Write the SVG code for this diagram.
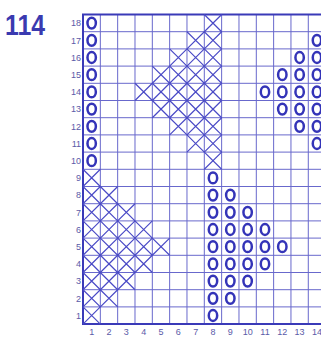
<svg xmlns="http://www.w3.org/2000/svg" width="321" height="338" viewBox="0 0 321 338">
<style>
.grid{stroke:#6868cc;stroke-width:1;fill:none}
.border{stroke:#3a3ab8;stroke-width:2;fill:none}
.xs{stroke:#4a4ac6;stroke-width:1.2;fill:none}
.os{stroke:#3434b8;stroke-width:2.5;fill:none}
.lbl{font-family:"Liberation Sans",Arial,sans-serif;font-size:9px;fill:#5a5aa8}
.title{font-family:"Liberation Sans",Arial,sans-serif;font-size:29px;font-weight:bold;fill:#3a3ab0}
</style>
<defs>
<path id="x" class="xs" d="M0,0L17.33,17.2M17.33,0L0,17.2"/>
<ellipse id="o" class="os" cx="8.67" cy="8.6" rx="4.2" ry="5.4"/>
</defs>
<rect width="321" height="338" fill="#ffffff"/>
<text class="title" x="5" y="35" textLength="40" lengthAdjust="spacingAndGlyphs">114</text>
<g id="grid">
<path class="grid" d="M100.33,14.5V324.1M117.66,14.5V324.1M134.99,14.5V324.1M152.32,14.5V324.1M169.65,14.5V324.1M186.98,14.5V324.1M204.31,14.5V324.1M221.64,14.5V324.1M238.97,14.5V324.1M256.3,14.5V324.1M273.63,14.5V324.1M290.96,14.5V324.1M308.29,14.5V324.1"/>
<path class="grid" d="M83,31.7H321M83,48.9H321M83,66.1H321M83,83.3H321M83,100.5H321M83,117.7H321M83,134.9H321M83,152.1H321M83,169.3H321M83,186.5H321M83,203.7H321M83,220.9H321M83,238.1H321M83,255.3H321M83,272.5H321M83,289.7H321M83,306.9H321"/>
<path class="border" d="M321,14.5H83V324.1H321"/>
</g>
<g id="row-labels" class="lbl" text-anchor="end">
<text x="81" y="26.3">18</text><text x="81" y="43.5">17</text><text x="81" y="60.7">16</text><text x="81" y="77.9">15</text><text x="81" y="95.1">14</text><text x="81" y="112.3">13</text><text x="81" y="129.5">12</text><text x="81" y="146.7">11</text><text x="81" y="163.9">10</text><text x="81" y="181.1">9</text><text x="81" y="198.3">8</text><text x="81" y="215.5">7</text><text x="81" y="232.7">6</text><text x="81" y="249.9">5</text><text x="81" y="267.1">4</text><text x="81" y="284.3">3</text><text x="81" y="301.5">2</text><text x="81" y="318.7">1</text>
</g>
<g id="col-labels" class="lbl" text-anchor="middle">
<text x="91.67" y="335">1</text><text x="109" y="335">2</text><text x="126.33" y="335">3</text><text x="143.66" y="335">4</text><text x="160.99" y="335">5</text><text x="178.32" y="335">6</text><text x="195.65" y="335">7</text><text x="212.98" y="335">8</text><text x="230.31" y="335">9</text><text x="247.64" y="335">10</text><text x="264.97" y="335">11</text><text x="282.3" y="335">12</text><text x="299.63" y="335">13</text><text x="316.96" y="335">14</text>
</g>
<g id="crosses">
<use href="#x" x="204.31" y="14.5"/>
<use href="#x" x="186.98" y="31.7"/><use href="#x" x="204.31" y="31.7"/>
<use href="#x" x="169.65" y="48.9"/><use href="#x" x="186.98" y="48.9"/><use href="#x" x="204.31" y="48.9"/>
<use href="#x" x="152.32" y="66.1"/><use href="#x" x="169.65" y="66.1"/><use href="#x" x="186.98" y="66.1"/><use href="#x" x="204.31" y="66.1"/>
<use href="#x" x="134.99" y="83.3"/><use href="#x" x="152.32" y="83.3"/><use href="#x" x="169.65" y="83.3"/><use href="#x" x="186.98" y="83.3"/><use href="#x" x="204.31" y="83.3"/>
<use href="#x" x="152.32" y="100.5"/><use href="#x" x="169.65" y="100.5"/><use href="#x" x="186.98" y="100.5"/><use href="#x" x="204.31" y="100.5"/>
<use href="#x" x="169.65" y="117.7"/><use href="#x" x="186.98" y="117.7"/><use href="#x" x="204.31" y="117.7"/>
<use href="#x" x="186.98" y="134.9"/><use href="#x" x="204.31" y="134.9"/>
<use href="#x" x="204.31" y="152.1"/>
<use href="#x" x="83" y="169.3"/>
<use href="#x" x="83" y="186.5"/><use href="#x" x="100.33" y="186.5"/>
<use href="#x" x="83" y="203.7"/><use href="#x" x="100.33" y="203.7"/><use href="#x" x="117.66" y="203.7"/>
<use href="#x" x="83" y="220.9"/><use href="#x" x="100.33" y="220.9"/><use href="#x" x="117.66" y="220.9"/><use href="#x" x="134.99" y="220.9"/>
<use href="#x" x="83" y="238.1"/><use href="#x" x="100.33" y="238.1"/><use href="#x" x="117.66" y="238.1"/><use href="#x" x="134.99" y="238.1"/><use href="#x" x="152.32" y="238.1"/>
<use href="#x" x="83" y="255.3"/><use href="#x" x="100.33" y="255.3"/><use href="#x" x="117.66" y="255.3"/><use href="#x" x="134.99" y="255.3"/>
<use href="#x" x="83" y="272.5"/><use href="#x" x="100.33" y="272.5"/><use href="#x" x="117.66" y="272.5"/>
<use href="#x" x="83" y="289.7"/><use href="#x" x="100.33" y="289.7"/>
<use href="#x" x="83" y="306.9"/>
</g>
<g id="circles">
<use href="#o" x="83" y="14.5"/><use href="#o" x="83" y="31.7"/><use href="#o" x="83" y="48.9"/><use href="#o" x="83" y="66.1"/><use href="#o" x="83" y="83.3"/><use href="#o" x="83" y="100.5"/><use href="#o" x="83" y="117.7"/><use href="#o" x="83" y="134.9"/><use href="#o" x="83" y="152.1"/>
<use href="#o" x="308.29" y="31.7"/>
<use href="#o" x="290.96" y="48.9"/><use href="#o" x="308.29" y="48.9"/>
<use href="#o" x="273.63" y="66.1"/><use href="#o" x="290.96" y="66.1"/><use href="#o" x="308.29" y="66.1"/>
<use href="#o" x="256.3" y="83.3"/><use href="#o" x="273.63" y="83.3"/><use href="#o" x="290.96" y="83.3"/><use href="#o" x="308.29" y="83.3"/>
<use href="#o" x="273.63" y="100.5"/><use href="#o" x="290.96" y="100.5"/><use href="#o" x="308.29" y="100.5"/>
<use href="#o" x="290.96" y="117.7"/><use href="#o" x="308.29" y="117.7"/>
<use href="#o" x="308.29" y="134.9"/>
<use href="#o" x="204.31" y="169.3"/>
<use href="#o" x="204.31" y="186.5"/><use href="#o" x="221.64" y="186.5"/>
<use href="#o" x="204.31" y="203.7"/><use href="#o" x="221.64" y="203.7"/><use href="#o" x="238.97" y="203.7"/>
<use href="#o" x="204.31" y="220.9"/><use href="#o" x="221.64" y="220.9"/><use href="#o" x="238.97" y="220.9"/><use href="#o" x="256.3" y="220.9"/>
<use href="#o" x="204.31" y="238.1"/><use href="#o" x="221.64" y="238.1"/><use href="#o" x="238.97" y="238.1"/><use href="#o" x="256.3" y="238.1"/><use href="#o" x="273.63" y="238.1"/>
<use href="#o" x="204.31" y="255.3"/><use href="#o" x="221.64" y="255.3"/><use href="#o" x="238.97" y="255.3"/><use href="#o" x="256.3" y="255.3"/>
<use href="#o" x="204.31" y="272.5"/><use href="#o" x="221.64" y="272.5"/><use href="#o" x="238.97" y="272.5"/>
<use href="#o" x="204.31" y="289.7"/><use href="#o" x="221.64" y="289.7"/>
<use href="#o" x="204.31" y="306.9"/>
</g>
</svg>
